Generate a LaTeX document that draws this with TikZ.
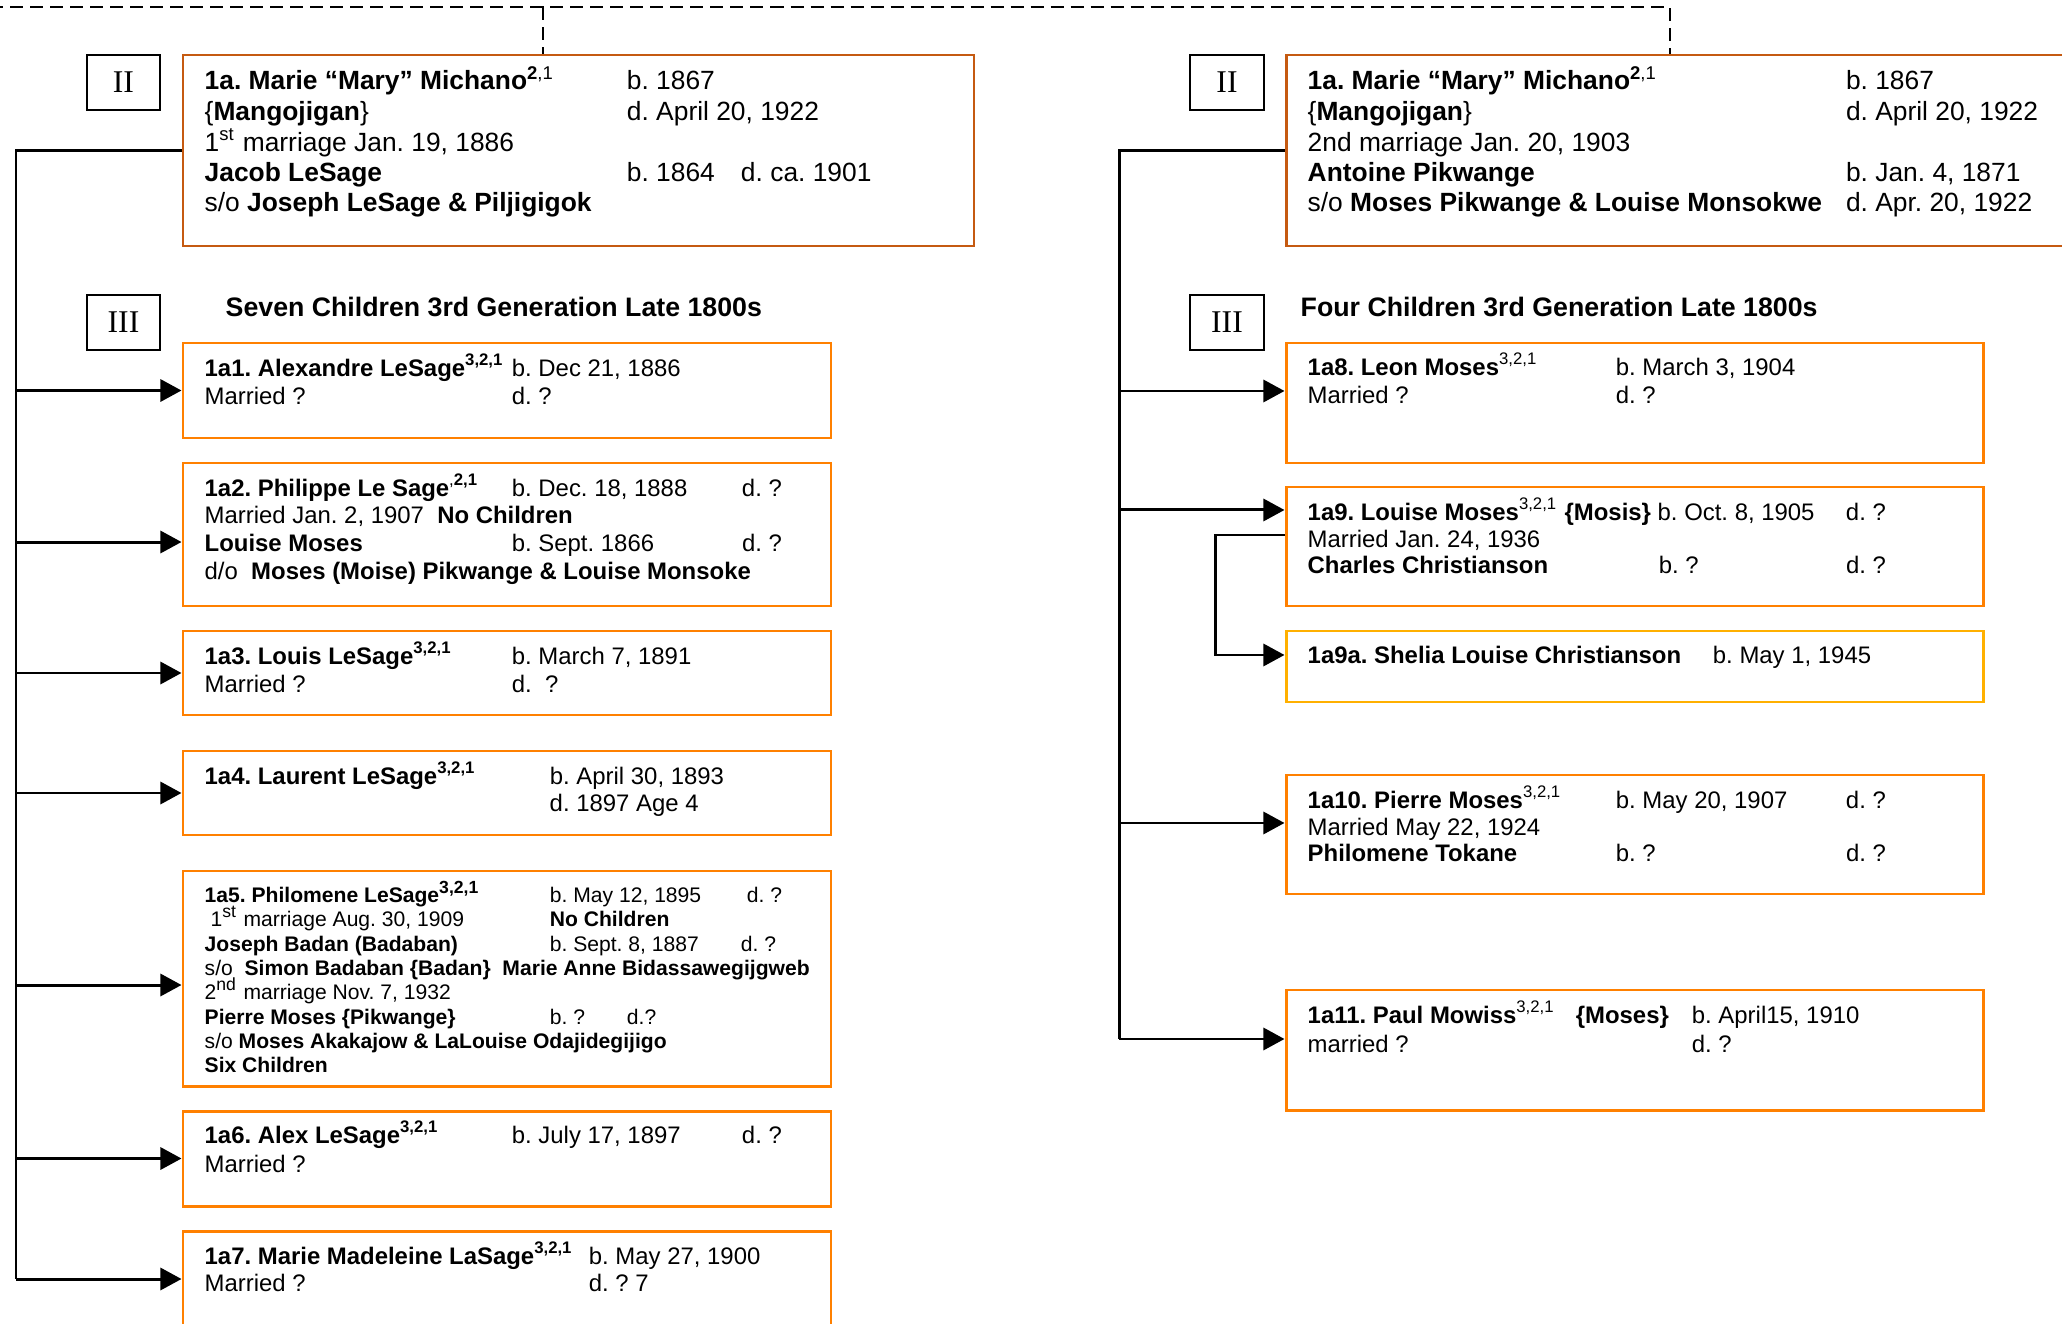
\documentclass[tikz,border=0pt]{standalone}
\usepackage{fontspec}
\setmainfont{Liberation Sans}
\newfontfamily\romfont{Liberation Serif}
\usetikzlibrary{arrows.meta}
\usetikzlibrary{fit}
\tikzset{>={Triangle[length=0.21cm,width=0.22cm]}}
\definecolor{brown1}{HTML}{C55A11}
\definecolor{orange1}{HTML}{FF8000}
\definecolor{amber1}{HTML}{FFB000}
\newcommand\colbox[2]{\makebox[#1][l]{#2}}
\frenchspacing
\tikzstyle{genbox}=[draw,line width=0.7pt,inner sep=0pt]
\tikzstyle{genlabel}=[inner sep=0pt,font=\romfont\fontsize{9}{10}\selectfont]
\tikzstyle{parentbox}=[draw=brown1,line width=0.85pt,inner sep=0pt]
\tikzstyle{kidbox}=[draw=orange1,line width=0.85pt,inner sep=0pt]
\tikzstyle{grandbox}=[draw=amber1,line width=0.85pt,inner sep=0pt]
\tikzstyle{txtrow}=[anchor=base west,inner sep=0pt,font=\fontsize{6.8}{8}\selectfont]
\tikzstyle{toprow}=[txtrow,font=\fontsize{7.5}{9}\selectfont]
\tikzstyle{smallrow}=[txtrow,font=\fontsize{6}{7}\selectfont]
\tikzstyle{gentitle}=[txtrow,font=\fontsize{7.6}{9}\selectfont\bfseries]
\tikzstyle{treeline}=[line width=0.85pt]
\tikzstyle{kid}=[treeline,->]
\tikzstyle{famline}=[line width=0.6pt,dash pattern=on 0.13cm off 0.07cm]

\begin{document}
\begin{tikzpicture}[x=0.01cm,y=-0.01cm]
  \useasboundingbox (0,0) rectangle (2062,1324);

  % generation II, both marriages
  \node[genbox, fit={(87,55) (160,110)}] (g2l) {};
  \node[genlabel] (g2lt) at (g2l) {II};
  \node[genbox, fit={(1190,55) (1264,110)}] (g2r) {};
  \node[genlabel] (g2rt) at (g2r) {II};
  \node[parentbox, fit={(183,55) (974,246)}] (lp) {};
  \node[parentbox, fit={(1286,55) (2080,246)}] (rp) {};

  \node[toprow] (lp1) at (204,90) {\colbox{4.22cm}{\textbf{1a. Marie “Mary” Michano}\textsuperscript{\textbf{2},1}}b. 1867};
  \node[toprow] (lp2) at (204,120.5) {\colbox{4.22cm}{\{\textbf{Mangojigan}\}}d. April 20, 1922};
  \node[toprow] (lp3) at (204,151) {1\textsuperscript{st} marriage Jan. 19, 1886};
  \node[toprow] (lp4) at (204,181.5) {\colbox{4.22cm}{\textbf{Jacob LeSage}}\colbox{1.14cm}{b. 1864}d. ca. 1901};
  \node[toprow] (lp5) at (204,212) {s/o \textbf{Joseph LeSage \& Piljigigok}};

  \node[toprow] (rp1) at (1307,90) {\colbox{5.38cm}{\textbf{1a. Marie “Mary” Michano}\textsuperscript{\textbf{2},1}}b. 1867};
  \node[toprow] (rp2) at (1307,120.5) {\colbox{5.38cm}{\{\textbf{Mangojigan}\}}d. April 20, 1922};
  \node[toprow] (rp3) at (1307,151) {2nd marriage Jan. 20, 1903};
  \node[toprow] (rp4) at (1307,181.5) {\colbox{5.38cm}{\textbf{Antoine Pikwange}}b. Jan. 4, 1871};
  \node[toprow] (rp5) at (1307,212) {\colbox{5.38cm}{s/o \textbf{Moses Pikwange \& Louise Monsokwe}}d. Apr. 20, 1922};

  % dashed line to the previous generation
  \coordinate (topend) at (-10,7);
  \coordinate (topl) at (543,7);
  \coordinate (topr) at (1670,7);
  \draw[famline] (topend) -- (topl) -- (topr) -- (topr |- rp.north);
  \draw[famline] (topl) -- (topl |- lp.north);

  % generation III, left
  \node[genbox, fit={(87,295) (160,350)}] (g3l) {};
  \node[genlabel] (g3lt) at (g3l) {III};
  \node[gentitle] (tl) at (225,316) {Seven Children 3rd Generation Late 1800s};

  \node[kidbox, fit={(183,343) (831,438)}] (a1) {};
  \node[kidbox, fit={(183,463) (831,606)}] (a2) {};
  \node[kidbox, fit={(183,631) (831,715)}] (a3) {};
  \node[kidbox, fit={(183,751) (831,835)}] (a4) {};
  \node[kidbox, fit={(183,871) (831,1086)}] (a5) {};
  \node[kidbox, fit={(183,1111) (831,1206)}] (a6) {};
  \node[kidbox, fit={(183,1231) (831,1327)}] (a7) {};

  \node[txtrow] (a1r1) at (204,376.5) {\colbox{3.07cm}{\textbf{1a1. Alexandre LeSage}\textsuperscript{\textbf{3,2,1}}}b. Dec 21, 1886};
  \node[txtrow] (a1r2) at (204,404) {\colbox{3.07cm}{Married ?}d. ?};

  \node[txtrow] (a2r1) at (204,496) {\colbox{3.07cm}{\textbf{1a2. Philippe Le Sage}\textsuperscript{,\textbf{2,1}}}\colbox{2.30cm}{b. Dec. 18, 1888}d. ?};
  \node[txtrow] (a2r2) at (204,523.5) {Married Jan. 2, 1907\ \ \textbf{No Children}};
  \node[txtrow] (a2r3) at (204,551.5) {\colbox{3.07cm}{\textbf{Louise Moses}}\colbox{2.30cm}{b. Sept. 1866}d. ?};
  \node[txtrow] (a2r4) at (204,579) {d/o\ \ \textbf{Moses (Moise) Pikwange \& Louise Monsoke}};

  \node[txtrow] (a3r1) at (204,664) {\colbox{3.07cm}{\textbf{1a3. Louis LeSage}\textsuperscript{\textbf{3,2,1}}}b. March 7, 1891};
  \node[txtrow] (a3r2) at (204,692) {\colbox{3.07cm}{Married ?}d.\ \ ?};

  \node[txtrow] (a4r1) at (204,784.5) {\colbox{3.45cm}{\textbf{1a4. Laurent LeSage}\textsuperscript{\textbf{3,2,1}}}b. April 30, 1893};
  \node[txtrow] (a4r2) at (549,811.5) {d. 1897 Age 4};

  \node[smallrow] (a5r1) at (204,902) {\colbox{3.45cm}{\textbf{1a5. Philomene LeSage\textsuperscript{3,2,1}}}\colbox{1.97cm}{b. May 12, 1895}d. ?};
  \node[smallrow] (a5r2) at (204,926.5) {\colbox{3.45cm}{\ 1\textsuperscript{st} marriage Aug. 30, 1909}\textbf{No Children}};
  \node[smallrow] (a5r3) at (204,951) {\colbox{3.45cm}{\textbf{Joseph Badan (Badaban)}}\colbox{1.91cm}{b. Sept. 8, 1887}d. ?};
  \node[smallrow] (a5r4) at (204,975) {s/o\ \ \textbf{Simon Badaban \{Badan\}\ \ Marie Anne Bidassawegijgweb}};
  \node[smallrow] (a5r5) at (204,999.5) {2\textsuperscript{nd} marriage Nov. 7, 1932};
  \node[smallrow] (a5r6) at (204,1024) {\colbox{3.45cm}{\textbf{Pierre Moses \{Pikwange\}}}\colbox{0.77cm}{b. ?}d.?};
  \node[smallrow] (a5r7) at (204,1048) {s/o \textbf{Moses Akakajow \& LaLouise Odajidegijigo}};
  \node[smallrow] (a5r8) at (204,1072.5) {\textbf{Six Children}};

  \node[txtrow] (a6r1) at (204,1143.5) {\colbox{3.07cm}{\textbf{1a6. Alex LeSage}\textsuperscript{\textbf{3,2,1}}}\colbox{2.30cm}{b. July 17, 1897}d. ?};
  \node[txtrow] (a6r2) at (204,1172) {Married ?};

  \node[txtrow] (a7r1) at (204,1264) {\colbox{3.84cm}{\textbf{1a7. Marie Madeleine LaSage}\textsuperscript{\textbf{3,2,1}}}b. May 27, 1900};
  \node[txtrow] (a7r2) at (204,1291) {\colbox{3.84cm}{Married ?}d. ? 7};

  % generation III, right
  \node[genbox, fit={(1190,295) (1264,350)}] (g3r) {};
  \node[genlabel] (g3rt) at (g3r) {III};
  \node[gentitle] (tr) at (1300,316) {Four Children 3rd Generation Late 1800s};

  \node[kidbox, fit={(1286,343) (1983,463)}] (a8) {};
  \node[kidbox, fit={(1286,487) (1983,606)}] (a9) {};
  \node[grandbox, fit={(1286,631) (1983,702)}] (a9a) {};
  \node[kidbox, fit={(1286,775) (1983,894)}] (a10) {};
  \node[kidbox, fit={(1286,990) (1983,1110)}] (a11) {};

  \node[txtrow] (a8r1) at (1307,375.5) {\colbox{3.08cm}{\textbf{1a8. Leon Moses}\textsuperscript{3,2,1}}b. March 3, 1904};
  \node[txtrow] (a8r2) at (1307,403) {\colbox{3.08cm}{Married ?}d. ?};

  \node[txtrow] (a9r1) at (1307,520) {\colbox{5.38cm}{\textbf{1a9. Louise Moses}\textsuperscript{3,2,1} \textbf{\{Mosis\}} b. Oct. 8, 1905}d. ?};
  \node[txtrow] (a9r2) at (1307,547.5) {Married Jan. 24, 1936};
  \node[txtrow] (a9r3) at (1307,573.5) {\colbox{3.51cm}{\textbf{Charles Christianson}}\colbox{1.87cm}{b. ?}d. ?};

  \node[txtrow] (a9ar1) at (1307,663.5) {\colbox{4.05cm}{\textbf{1a9a. Shelia Louise Christianson}}b. May 1, 1945};

  \node[txtrow] (a10r1) at (1307,808.5) {\colbox{3.08cm}{\textbf{1a10. Pierre Moses}\textsuperscript{3,2,1}}\colbox{2.30cm}{b. May 20, 1907}d. ?};
  \node[txtrow] (a10r2) at (1307,835.5) {Married May 22, 1924};
  \node[txtrow] (a10r3) at (1307,861.5) {\colbox{3.08cm}{\textbf{Philomene Tokane}}\colbox{2.30cm}{b. ?}d. ?};

  \node[txtrow] (a11r1) at (1307,1023.5) {\colbox{2.68cm}{\textbf{1a11. Paul Mowiss}\textsuperscript{3,2,1}}\colbox{1.16cm}{\textbf{\{Moses\}}}b. April15, 1910};
  \node[txtrow] (a11r2) at (1307,1052) {\colbox{3.84cm}{married ?}d. ?};

  % left family tree
  \coordinate (lt) at (lp.west -| 16,0);
  \coordinate (a2in) at ([yshift=-0.075cm]a2.west);
  \coordinate (a5in) at ([yshift=-0.065cm]a5.west);
  \draw[treeline] (lp.west) -- (lt) -- (lt |- a7.west);
  \draw[kid] (lt |- a1.west) -- (a1.west);
  \draw[kid] (lt |- a2in) -- (a2in);
  \draw[kid] (lt |- a3.west) -- (a3.west);
  \draw[kid] (lt |- a4.west) -- (a4.west);
  \draw[kid] (lt |- a5in) -- (a5in);
  \draw[kid] (lt |- a6.west) -- (a6.west);
  \draw[kid] (lt |- a7.west) -- (a7.west);

  % right family tree
  \coordinate (rt) at (rp.west -| 1119,0);
  \coordinate (a8in) at ([yshift=0.12cm]a8.west);
  \coordinate (a9in) at ([yshift=0.365cm]a9.west);
  \coordinate (a9out) at ([yshift=0.115cm]a9.west);
  \coordinate (a9ain) at ([yshift=0.115cm]a9a.west);
  \coordinate (a10in) at ([yshift=0.115cm]a10.west);
  \coordinate (a11in) at ([yshift=0.11cm]a11.west);
  \coordinate (sub) at (1215,0);
  \draw[treeline] (rp.west) -- (rt) -- (rt |- a11in);
  \draw[kid] (rt |- a8in) -- (a8in);
  \draw[kid] (rt |- a9in) -- (a9in);
  \draw[kid] (rt |- a10in) -- (a10in);
  \draw[kid] (rt |- a11in) -- (a11in);
  \draw[kid] (a9out) -- (sub |- a9out) -- (sub |- a9ain) -- (a9ain);
\end{tikzpicture}
\end{document}
